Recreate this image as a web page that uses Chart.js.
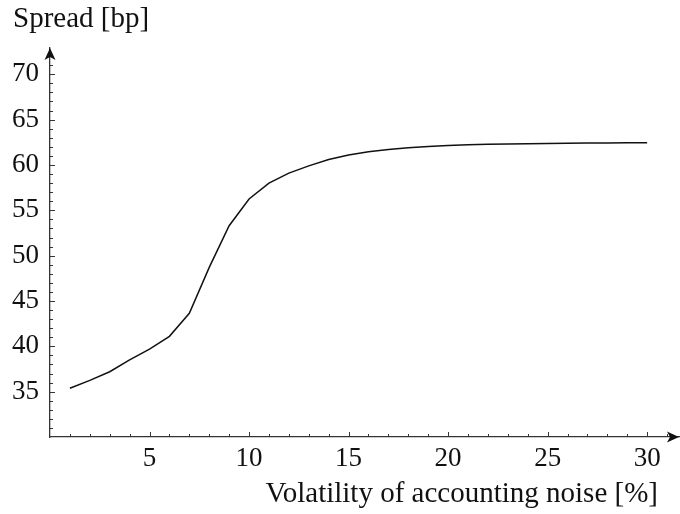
<!DOCTYPE html>
<html>
<head>
<meta charset="utf-8">
<script src="https://cdn.jsdelivr.net/npm/chart.js@4"></script>
<style>
  html, body { margin: 0; padding: 0; background: #fff; }
  #wrap { width: 680px; height: 514px; }
</style>
</head>
<body>
<div id="wrap"><canvas id="spreadChart" width="680" height="514"></canvas></div>
<script>
        // values
        const noiseVol = [1, 2, 3, 4, 5, 6, 7, 8, 9, 10, 11, 12, 13, 14, 15, 16, 17, 18, 19, 20, 21, 22, 23, 24, 25, 26, 27, 28, 29, 30];
        const spreadBp = [35.37, 36.25, 37.2, 38.5, 39.7, 41.1, 43.65, 48.7, 53.3, 56.25, 58.0, 59.1, 59.9, 60.6, 61.1, 61.45, 61.7, 61.9, 62.05, 62.15, 62.22, 62.28, 62.32, 62.35, 62.38, 62.4, 62.42, 62.43, 62.44, 62.45];
        const xTickValues = [5, 10, 15, 20, 25, 30];
        const yTickValues = [35, 40, 45, 50, 55, 60, 65, 70];
        const xLabel = 'Volatility of accounting noise [%]';
        const yLabel = 'Spread [bp]';

        const serif = '"Liberation Serif", "DejaVu Serif", serif';
        const axisColor = '#333';

        // arrows, minor ticks and axis labels, Mathematica style
        const axesDecor = {
            id: 'axesDecor',
            afterDraw(chart) {
                const { ctx, chartArea: a, scales: { x, y } } = chart;
                ctx.save();
                ctx.strokeStyle = axisColor;
                ctx.fillStyle = axisColor;
                ctx.lineWidth = 1;
                // ticks on x axis (pointing up)
                for (let v = 1; v <= 31; v++) {
                    const px = Math.round(x.getPixelForValue(v)) + 0.5;
                    const len = v % 5 === 0 ? 5 : 3;
                    ctx.beginPath();
                    ctx.moveTo(px, a.bottom);
                    ctx.lineTo(px, a.bottom - len);
                    ctx.stroke();
                }
                // ticks on y axis (pointing right)
                for (let v = 31; v <= 72; v++) {
                    const py = Math.round(y.getPixelForValue(v)) + 0.5;
                    const len = v % 5 === 0 ? 5 : 3;
                    ctx.beginPath();
                    ctx.moveTo(a.left, py);
                    ctx.lineTo(a.left + len, py);
                    ctx.stroke();
                }
                // arrow heads
                ctx.fillStyle = '#111';
                ctx.beginPath();
                ctx.moveTo(a.left, a.top);
                ctx.lineTo(a.left - 5.5, a.top + 12);
                ctx.lineTo(a.left, a.top + 9);
                ctx.lineTo(a.left + 5.5, a.top + 12);
                ctx.closePath();
                ctx.fill();
                ctx.beginPath();
                ctx.moveTo(a.right, a.bottom);
                ctx.lineTo(a.right - 12, a.bottom - 5.5);
                ctx.lineTo(a.right - 9, a.bottom);
                ctx.lineTo(a.right - 12, a.bottom + 5.5);
                ctx.closePath();
                ctx.fill();
                // axis labels
                ctx.fillStyle = '#111';
                ctx.font = '29px ' + serif;
                ctx.textBaseline = 'alphabetic';
                ctx.textAlign = 'left';
                ctx.fillText(yLabel, 13, 27);
                ctx.textAlign = 'right';
                ctx.fillText(xLabel, 658, 502);
                ctx.restore();
            }
        };

        const ctx = document.getElementById('spreadChart').getContext('2d');
        new Chart(ctx, {
            type: 'line',
            data: {
                labels: noiseVol,
                datasets: [
                    { data: spreadBp, borderColor: '#111', borderWidth: 1.5, pointRadius: 0, tension: 0, fill: false }
                ]
            },
            options: {
                responsive: false,
                animation: false,
                layout: { padding: { top: 48, right: 1, left: 0, bottom: 0 } },
                plugins: { legend: { display: false }, tooltip: { enabled: false } },
                scales: {
                    x: {
                        type: 'linear', min: 0, max: 31.6,
                        afterFit: s => { s.height = 77; },
                        afterBuildTicks: s => { s.ticks = xTickValues.map(v => ({ value: v })); },
                        grid: { display: false, drawTicks: false },
                        border: { display: true, color: axisColor, width: 1.3 },
                        ticks: { color: '#111', font: { family: serif, size: 27 }, padding: 6, maxRotation: 0, autoSkip: false }
                    },
                    y: {
                        min: 30, max: 72.9,
                        afterFit: s => { s.width = 50; },
                        afterBuildTicks: s => { s.ticks = yTickValues.map(v => ({ value: v })); },
                        grid: { display: false, drawTicks: false },
                        border: { display: true, color: axisColor, width: 1.3 },
                        ticks: { color: '#111', font: { family: serif, size: 27 }, padding: 11 }
                    }
                }
            },
            plugins: [axesDecor]
        });
</script>
</body>
</html>
